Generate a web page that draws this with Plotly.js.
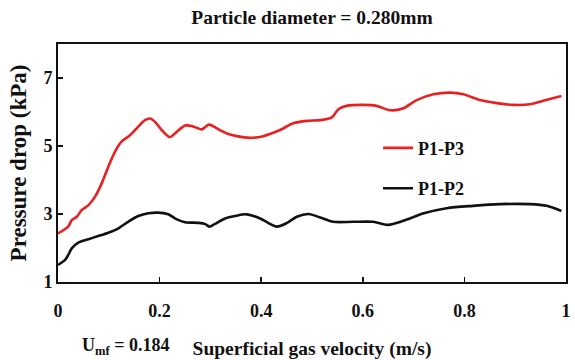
<!DOCTYPE html>
<html>
<head>
<meta charset="utf-8">
<script src="https://cdn.plot.ly/plotly-3.0.1.min.js"></script>
<style>html,body{margin:0;padding:0;background:#fff}#chart{width:575px;height:360px}</style>
</head>
<body>
<div id="chart"></div>
<script>
const p13X = [0, 0.02, 0.027, 0.037, 0.047, 0.06, 0.073, 0.086, 0.099, 0.112, 0.125, 0.142, 0.158, 0.171, 0.181, 0.191, 0.204, 0.22, 0.234, 0.25, 0.263, 0.283, 0.297, 0.316, 0.334, 0.352, 0.378, 0.404, 0.437, 0.463, 0.49, 0.516, 0.539, 0.552, 0.568, 0.601, 0.627, 0.654, 0.68, 0.706, 0.739, 0.772, 0.798, 0.831, 0.864, 0.896, 0.929, 0.955, 0.991];
const p13Y = [2.43, 2.63, 2.82, 2.92, 3.12, 3.26, 3.51, 3.9, 4.39, 4.83, 5.13, 5.32, 5.57, 5.76, 5.81, 5.71, 5.47, 5.26, 5.42, 5.6, 5.59, 5.49, 5.63, 5.49, 5.36, 5.29, 5.24, 5.29, 5.47, 5.67, 5.74, 5.76, 5.84, 6.08, 6.18, 6.21, 6.18, 6.05, 6.11, 6.35, 6.52, 6.57, 6.52, 6.35, 6.26, 6.21, 6.23, 6.33, 6.47];
const p12X = [0, 0.014, 0.02, 0.027, 0.04, 0.06, 0.079, 0.099, 0.119, 0.138, 0.158, 0.178, 0.197, 0.217, 0.234, 0.25, 0.276, 0.289, 0.298, 0.309, 0.329, 0.348, 0.371, 0.398, 0.43, 0.45, 0.47, 0.493, 0.516, 0.542, 0.581, 0.62, 0.65, 0.68, 0.72, 0.765, 0.817, 0.87, 0.929, 0.962, 0.991];
const p12Y = [1.5, 1.65, 1.79, 1.99, 2.16, 2.26, 2.35, 2.45, 2.58, 2.77, 2.94, 3.02, 3.04, 2.99, 2.84, 2.76, 2.74, 2.71, 2.63, 2.71, 2.87, 2.94, 2.99, 2.87, 2.63, 2.73, 2.92, 3.0, 2.9, 2.77, 2.77, 2.77, 2.68, 2.8, 3.02, 3.17, 3.24, 3.29, 3.29, 3.24, 3.09];
const xTicks = [0, 0.2, 0.4, 0.6, 0.8, 1];
const xTickText = ['0', '0.2', '0.4', '0.6', '0.8', '1'];
const yTicks = [1, 3, 5, 7];

const F = '"Liberation Serif", "Times New Roman", serif';
const traces = [
  {x: p13X, y: p13Y, name: 'P1-P3', mode: 'lines', line: {color: '#e8201f', width: 2.6, shape: 'spline', smoothing: 0.8}, legendgroup: 'a'},
  {x: p12X, y: p12Y, name: 'P1-P2', mode: 'lines', line: {color: '#111111', width: 2.6, shape: 'spline', smoothing: 0.8}, legendgroup: 'b'}
];
const layout = {
  width: 575, height: 360,
  margin: {l: 58, r: 9, t: 44, b: 78},
  paper_bgcolor: '#fff', plot_bgcolor: '#fff',
  font: {family: F, color: '#111', size: 17, weight: 'bold'},
  title: {text: 'Particle diameter = 0.280mm', x: 0.5, xref: 'paper', y: 0.953, yref: 'container', yanchor: 'middle', font: {family: F, size: 19.5, color: '#111', weight: 'bold'}},
  xaxis: {range: [0, 1], tickvals: xTicks, ticktext: xTickText, ticks: 'inside', ticklen: 5, tickwidth: 1.5, tickcolor: '#111',
    showgrid: false, zeroline: false, showline: true, linecolor: '#111', linewidth: 2, mirror: true,
    ticklabelstandoff: 11,
    tickfont: {family: F, size: 18, color: '#111', weight: 'bold'},
    title: {text: 'Superficial gas velocity (m/s)', standoff: 24, font: {family: F, size: 19.5, color: '#111', weight: 'bold'}}},
  yaxis: {range: [1, 8], tickvals: yTicks, ticks: 'inside', ticklen: 5, tickwidth: 1.5, tickcolor: '#111',
    showgrid: false, zeroline: false, showline: true, linecolor: '#111', linewidth: 2, mirror: true,
    tickfont: {family: F, size: 18, color: '#111', weight: 'bold'},
    title: {text: 'Pressure drop (kPa)', standoff: 10, font: {family: F, size: 23, color: '#111', weight: 'bold'}}},
  showlegend: true,
  legend: {x: 0.63, y: 0.64, xanchor: 'left', yanchor: 'top', bgcolor: 'rgba(0,0,0,0)', tracegroupgap: 14,
    traceorder: 'grouped', font: {family: F, size: 18, color: '#111', weight: 'bold'}},
  annotations: [
    {text: 'U<sub>mf</sub> = 0.184', xref: 'paper', yref: 'paper', x: 0.132, y: -0.273, xanchor: 'center', yanchor: 'middle', showarrow: false, font: {family: F, size: 18, color: '#111', weight: 'bold'}}
  ]
};
Plotly.newPlot('chart', traces, layout, {displayModeBar: false, staticPlot: true});
</script>
</body>
</html>
